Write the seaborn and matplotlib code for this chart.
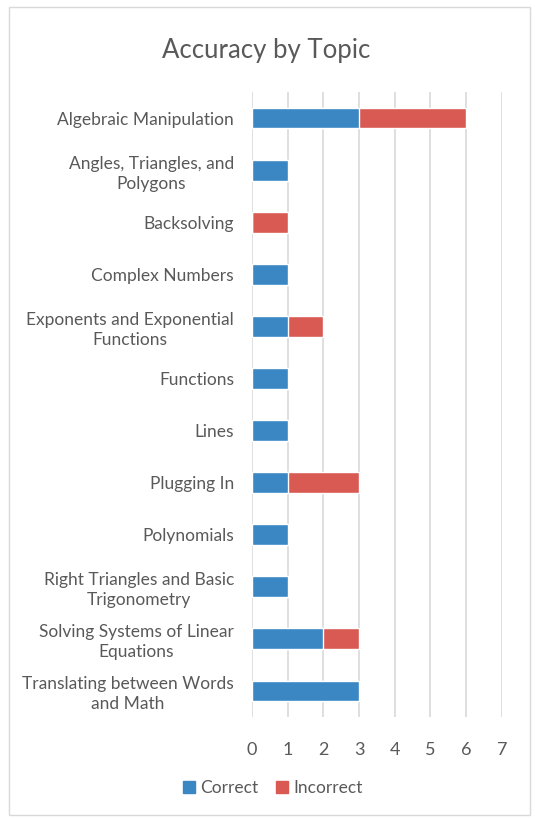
import matplotlib
matplotlib.use("Agg")
import matplotlib.pyplot as plt
import matplotlib.patches as mpatches
import pandas as pd
import seaborn as sns

# Data (top to bottom)
topics = [
    "Algebraic Manipulation",
    "Angles, Triangles, and\nPolygons",
    "Backsolving",
    "Complex Numbers",
    "Exponents and Exponential\nFunctions",
    "Functions",
    "Lines",
    "Plugging In",
    "Polynomials",
    "Right Triangles and Basic\nTrigonometry",
    "Solving Systems of Linear\nEquations",
    "Translating between Words\nand Math",
]
correct = [3, 1, 0, 1, 1, 1, 1, 1, 1, 1, 2, 3]
incorrect = [3, 0, 1, 0, 1, 0, 0, 2, 0, 0, 1, 0]
x_ticks = [0, 1, 2, 3, 4, 5, 6, 7]

blue = "#3A87C4"
red = "#D95A53"
text_col = "#595959"

df = pd.DataFrame({"topic": topics, "correct": correct, "incorrect": incorrect})
df["total"] = df["correct"] + df["incorrect"]

sns.set_theme(style="white")
plt.rcParams["font.family"] = ["Lato", "DejaVu Sans"]

fig = plt.figure(figsize=(5.35, 8.18), dpi=100)
ax = fig.add_axes([0.471, 0.1235, 0.467, 0.764])

# stacked bars: total (red) behind, correct (blue) in front
sns.barplot(data=df, x="total", y="topic", color=red, width=0.4,
            saturation=1, ax=ax, orient="h", zorder=3)
sns.barplot(data=df, x="correct", y="topic", color=blue, width=0.4,
            saturation=1, ax=ax, orient="h", zorder=4)

ax.set_xlim(0, 7)
ax.set_ylim(11.5, -0.5)
ax.set_xticks(x_ticks)
ax.set_xticklabels([str(t) for t in x_ticks], fontsize=13, color=text_col)
ax.tick_params(axis="x", length=0, pad=18)
ax.tick_params(axis="y", length=0, pad=13)
for lbl in ax.get_yticklabels():
    lbl.set_fontsize(12.5)
    lbl.set_color(text_col)
    lbl.set_multialignment("center")
    lbl.set_linespacing(1.3)
ax.set_xlabel("")
ax.set_ylabel("")
ax.grid(axis="x", color="#d9d9d9", linewidth=1.2, zorder=0)
ax.grid(axis="y", visible=False)
for s in ax.spines.values():
    s.set_visible(False)

fig.text(0.497, 0.938, "Accuracy by Topic", ha="center", va="center",
         fontsize=18.5, color=text_col)

handles = [mpatches.Patch(color=blue, label="Correct"),
           mpatches.Patch(color=red, label="Incorrect")]
fig.legend(handles=handles, loc="center", bbox_to_anchor=(0.51, 0.037),
           ncol=2, frameon=False, fontsize=12.5, handlelength=0.7,
           handleheight=0.7, handletextpad=0.3, columnspacing=1.0,
           labelcolor=text_col)

# light frame around the chart
fig.patches.append(mpatches.Rectangle((0.016, 0.004), 0.975, 0.987,
                                      transform=fig.transFigure, fill=False,
                                      edgecolor="#d9d9d9", linewidth=1))

fig.savefig("out.png", dpi=100)
